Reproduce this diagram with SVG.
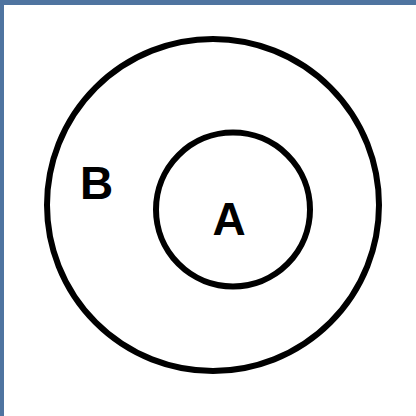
<svg xmlns="http://www.w3.org/2000/svg" width="416" height="416" viewBox="0 0 416 416">
<style>
.ring{fill:none;stroke:#000;stroke-width:6}
.lbl{font-family:"Liberation Sans",Arial,sans-serif;font-weight:bold;font-size:46px;fill:#000}
</style>
<rect x="0" y="0" width="416" height="416" fill="#4f74a0"/>
<rect x="4" y="5" width="412" height="411" fill="#fff"/>
<g id="setB">
<circle class="ring" cx="213" cy="205" r="166"/>
<text class="lbl" x="80" y="199">B</text>
</g>
<g id="setA">
<circle class="ring" cx="233" cy="209.5" r="77"/>
<text class="lbl" x="229" y="235" text-anchor="middle">A</text>
</g>
<g id="connectors"/>
</svg>
